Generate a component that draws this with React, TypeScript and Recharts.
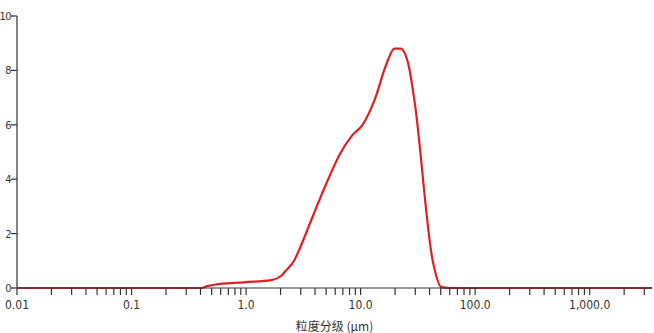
import { Line, LineChart, XAxis, YAxis } from "recharts";

// particle size (µm) vs. volume %
const sizes = [0.01, 0.1, 0.3, 0.405, 0.458, 0.527, 0.964, 1.66, 2.03, 2.23, 2.64, 2.92, 3.57, 4.37, 5.33, 6.53, 8.47, 10.4, 13.2, 17.1, 19.7, 22.3, 26.2, 29.5, 42.5, 50.8, 60, 100, 1000, 3500];
const volume = [0, 0, 0, 0, 0.07, 0.12, 0.21, 0.29, 0.45, 0.64, 1.02, 1.42, 2.32, 3.24, 4.09, 4.89, 5.62, 6.0, 6.9, 8.32, 8.8, 8.8, 8.2, 6.9, 1.03, 0.03, 0, 0, 0, 0];

const decades = [0.01, 0.1, 1, 10, 100, 1000];
const decadeLabels = ["0.01", "0.1", "1.0", "10.0", "100.0", "1,000.0"];
const xTicks = [
  0.01, 0.02, 0.03, 0.04, 0.05, 0.06, 0.07, 0.08, 0.09,
  0.1, 0.2, 0.3, 0.4, 0.5, 0.6, 0.7, 0.8, 0.9,
  1, 2, 3, 4, 5, 6, 7, 8, 9,
  10, 20, 30, 40, 50, 60, 70, 80, 90,
  100, 200, 300, 400, 500, 600, 700, 800, 900,
  1000, 2000, 3000,
];
const yTicks = [0, 2, 4, 6, 8, 10];

const axisColor = "#333";
const numFont = "'Liberation Sans Narrow', 'DejaVu Sans Condensed', sans-serif";

function XTick({ x, y, payload }: any) {
  const i = decades.findIndex((d) => Math.abs(d - payload.value) < d * 1e-6);
  if (i < 0) return null;
  return (
    <text x={x} y={y + 12} textAnchor="middle" fill={axisColor} fontSize={12} fontFamily={numFont}>
      {decadeLabels[i]}
    </text>
  );
}

export default function App() {
  const data = sizes.map((s, i) => ({ size: s, vol: volume[i] }));
  return (
    <div style={{ position: "absolute", left: 0, top: 0, width: 654, height: 333, background: "#fff" }}>
      <LineChart width={654} height={333} data={data} margin={{ top: 16, right: 2, bottom: 0, left: 0 }}>
        <XAxis
          dataKey="size"
          type="number"
          scale="log"
          domain={[0.01, 3500]}
          allowDataOverflow
          ticks={xTicks}
          interval={0}
          tick={<XTick />}
          tickSize={7}
          height={45}
          stroke={axisColor}
          strokeWidth={1.2}
          label={{
            value: "粒度分级 (μm)",
            position: "insideBottom",
            offset: 2,
            fill: axisColor,
            fontSize: 12,
            fontFamily: "'Noto Sans CJK SC', sans-serif",
          }}
        />
        <YAxis
          type="number"
          domain={[0, 10]}
          ticks={yTicks}
          width={17}
          tickSize={6}
          tickMargin={0}
          stroke={axisColor}
          strokeWidth={1.2}
          tick={{ fill: axisColor, fontSize: 11, fontFamily: numFont, letterSpacing: -0.5 }}
        />
        <Line type="monotone" dataKey="vol" stroke="#e02020" strokeWidth={2.2} dot={false} isAnimationActive={false} />
      </LineChart>
    </div>
  );
}
